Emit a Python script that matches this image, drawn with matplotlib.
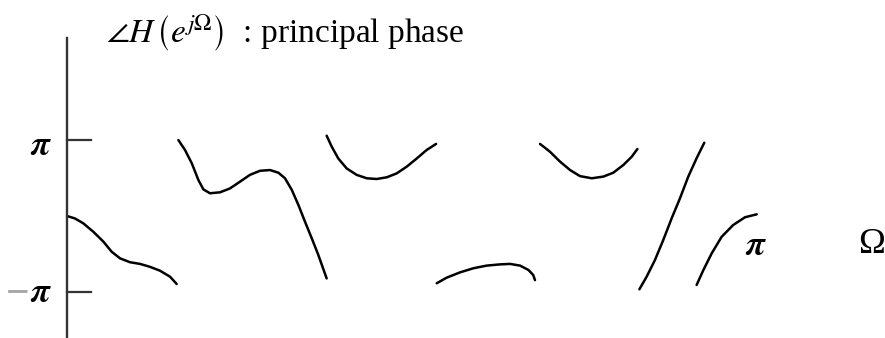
import numpy as np
import matplotlib.pyplot as plt

plt.rcParams['mathtext.fontset'] = 'stix'
plt.rcParams['font.family'] = ['Liberation Serif', 'DejaVu Serif']

# principal phase branches: Omega (rad) and wrapped phase (rad)
w1 = [0.0, 0.036, 0.074, 0.120, 0.166, 0.204, 0.242, 0.287, 0.333, 0.378, 0.424, 0.470, 0.500]
p1 = [0.0, -0.10, -0.30, -0.65, -1.06, -1.48, -1.75, -1.91, -1.98, -2.10, -2.26, -2.51, -2.81]

w2 = [0.508, 0.538, 0.569, 0.599, 0.622, 0.652, 0.698, 0.743, 0.789, 0.834,
      0.880, 0.926, 0.964, 0.994, 1.025, 1.055, 1.085, 1.116, 1.146, 1.184]
p2 = [3.14, 2.73, 2.18, 1.49, 1.10, 0.94, 0.98, 1.14, 1.42, 1.70,
      1.87, 1.90, 1.79, 1.56, 1.08, 0.46, -0.23, -0.92, -1.61, -2.58]

w3 = [1.184, 1.207, 1.237, 1.275, 1.321, 1.367, 1.412, 1.458, 1.503, 1.549, 1.595, 1.640, 1.683]
p3 = [3.32, 2.87, 2.38, 1.97, 1.70, 1.56, 1.53, 1.60, 1.76, 2.04, 2.38, 2.73, 2.98]

w4 = [1.686, 1.731, 1.792, 1.853, 1.914, 1.974, 2.020, 2.066, 2.104, 2.126, 2.134]
p4 = [-2.78, -2.55, -2.33, -2.16, -2.05, -2.00, -1.98, -2.05, -2.23, -2.44, -2.65]

w5 = [2.157, 2.202, 2.248, 2.294, 2.339, 2.393, 2.446, 2.491, 2.537, 2.575, 2.601]
p5 = [2.98, 2.66, 2.25, 1.90, 1.65, 1.56, 1.63, 1.79, 2.11, 2.45, 2.77]

w6 = [2.610, 2.643, 2.681, 2.719, 2.757, 2.795, 2.833, 2.871, 2.906]
p6 = [-3.03, -2.51, -1.82, -0.99, -0.10, 0.73, 1.63, 2.39, 3.03]

w7 = [2.871, 2.902, 2.940, 2.985, 3.038, 3.092, 3.145]
p7 = [-2.85, -2.23, -1.54, -0.86, -0.37, -0.05, 0.07]

branches = [(w1, p1), (w2, p2), (w3, p3), (w4, p4), (w5, p5), (w6, p6), (w7, p7)]

fig = plt.figure(figsize=(8.85, 3.38), dpi=100)
ax = fig.add_axes([0, 0, 1, 1])
ax.axis('off')
ax.set_xlim(-0.3055, 3.730)
ax.set_ylim(-5.043, 8.930)

for w, p in branches:
    ax.plot(w, p, color='black', lw=1.8, solid_capstyle='round', solid_joinstyle='round')

# vertical axis with ticks at +-pi
ax.plot([0, 0], [7.36, -5.1], color='#333333', lw=1.7)
for yv in [np.pi, -np.pi]:
    ax.plot([0, 0.109], [yv, yv], color='#333333', lw=1.6)

pi_lbl = r'$\boldsymbol{\pi}$'
ax.text(-0.068, np.pi - 0.25, pi_lbl, ha='right', va='center', fontsize=25)
ax.text(-0.068, -np.pi - 0.05, pi_lbl, ha='right', va='center', fontsize=25)
ax.text(-0.170, -np.pi - 0.08, '−', ha='right', va='center', fontsize=30,
        fontweight='bold', color='#a8a8a8')

ax.text(np.pi, -1.24, pi_lbl, ha='center', va='center', fontsize=25)
ax.text(3.668, -1.16, 'Ω', ha='center', va='center', fontsize=26)

ax.text(0.18, 7.15, r'$\angle H\,\left(e^{j\Omega}_{\ }\right)$  : principal phase',
        ha='left', va='baseline', fontsize=24)

fig.savefig('out.png', dpi=100)
